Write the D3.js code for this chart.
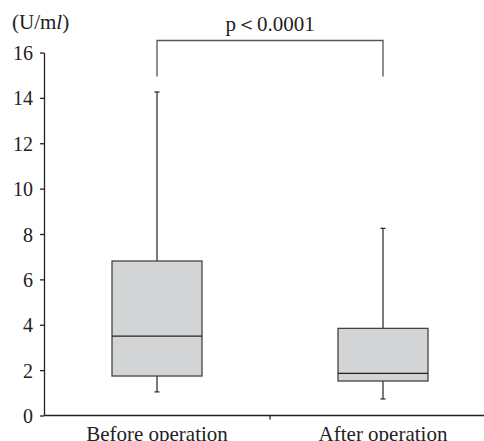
<!DOCTYPE html>
<html>
<head>
<meta charset="utf-8">
<script src="https://cdn.jsdelivr.net/npm/d3@7"></script>
<style>
  body { margin: 0; background: #fff; }
  svg { display: block; }
  svg text { font-family: "Liberation Serif", "Times New Roman", "DejaVu Serif", serif; }
</style>
</head>
<body>
<div id="chart"></div>
<script>
// box plot data (U/ml)
const groups = ['Before operation', 'After operation'];
const whiskerLow = [1.04, 0.73];
const q1 = [1.74, 1.52];
const median = [3.5, 1.86];
const q3 = [6.81, 3.84];
const whiskerHigh = [14.26, 8.25];
const yTicks = [0, 2, 4, 6, 8, 10, 12, 14, 16];
const pLabel = 'p\uFF1C0.0001';

const svgWidth = 484;
const svgHeight = 441;

const margin = { top: 52.5, right: -12, bottom: 25.5, left: 44 };
const width = svgWidth - margin.left - margin.right;
const height = svgHeight - margin.top - margin.bottom;

const svg = d3.select('#chart')
  .append('svg')
  .attr('width', svgWidth)
  .attr('height', svgHeight);

const chartGroup = svg.append('g')
  .attr('transform', `translate(${margin.left}, ${margin.top})`);

const xScale = d3.scaleBand()
  .domain(groups)
  .range([0, width]);

const yScale = d3.scaleLinear()
  .domain([0, 16])
  .range([height, 0]);

// y axis
const yAxis = chartGroup.append('g')
  .call(d3.axisLeft(yScale).tickValues(yTicks).tickSize(4).tickSizeOuter(0).tickPadding(7));
yAxis.attr('font-family', null).attr('font-size', null);
yAxis.select('.domain').attr('stroke', '#222').attr('stroke-width', 1.3);
yAxis.selectAll('.tick line').attr('stroke', '#222').attr('stroke-width', 1.3);
yAxis.selectAll('.tick text')
  .attr('font-size', 20)
  .attr('fill', '#222')
  .attr('dy', '0.35em');

// x axis with tick between the groups
const xAxis = chartGroup.append('g')
  .attr('transform', `translate(0, ${height})`);
xAxis.append('line')
  .attr('x1', 0).attr('x2', width)
  .attr('stroke', '#222').attr('stroke-width', 1.3);
xAxis.append('line')
  .attr('x1', xScale(groups[1])).attr('x2', xScale(groups[1]))
  .attr('y1', 0).attr('y2', 4)
  .attr('stroke', '#222').attr('stroke-width', 1.3);
xAxis.selectAll('text.label')
  .data(groups)
  .enter()
  .append('text')
  .attr('class', 'label')
  .attr('x', d => xScale(d) + xScale.bandwidth() / 2)
  .attr('y', 25)
  .attr('text-anchor', 'middle')
  .attr('font-size', 21)
  .attr('fill', '#222')
  .text(d => d);

// boxes
const boxWidth = 90;
const capWidth = 5;
const boxes = chartGroup.selectAll('g.box')
  .data(groups)
  .enter()
  .append('g')
  .attr('class', 'box')
  .attr('transform', d => `translate(${xScale(d) + xScale.bandwidth() / 2}, 0)`);

boxes.append('line')
  .attr('y1', (d, i) => yScale(whiskerHigh[i]))
  .attr('y2', (d, i) => yScale(q3[i]))
  .attr('stroke', '#333').attr('stroke-width', 1.3);
boxes.append('line')
  .attr('y1', (d, i) => yScale(q1[i]))
  .attr('y2', (d, i) => yScale(whiskerLow[i]))
  .attr('stroke', '#333').attr('stroke-width', 1.3);
boxes.append('line')
  .attr('x1', -capWidth / 2).attr('x2', capWidth / 2)
  .attr('y1', (d, i) => yScale(whiskerHigh[i]))
  .attr('y2', (d, i) => yScale(whiskerHigh[i]))
  .attr('stroke', '#333').attr('stroke-width', 1.3);
boxes.append('line')
  .attr('x1', -capWidth / 2).attr('x2', capWidth / 2)
  .attr('y1', (d, i) => yScale(whiskerLow[i]))
  .attr('y2', (d, i) => yScale(whiskerLow[i]))
  .attr('stroke', '#333').attr('stroke-width', 1.3);
boxes.append('rect')
  .attr('x', -boxWidth / 2)
  .attr('width', boxWidth)
  .attr('y', (d, i) => yScale(q3[i]))
  .attr('height', (d, i) => yScale(q1[i]) - yScale(q3[i]))
  .attr('fill', '#d3d4d6')
  .attr('stroke', '#444')
  .attr('stroke-width', 1.3);
boxes.append('line')
  .attr('x1', -boxWidth / 2).attr('x2', boxWidth / 2)
  .attr('y1', (d, i) => yScale(median[i]))
  .attr('y2', (d, i) => yScale(median[i]))
  .attr('stroke', '#222').attr('stroke-width', 1.3);

// significance bracket
const xa = xScale(groups[0]) + xScale.bandwidth() / 2;
const xb = xScale(groups[1]) + xScale.bandwidth() / 2;
const bracketTop = yScale(16) - 12;
const bracketBottom = yScale(16) + 24;
chartGroup.append('path')
  .attr('d', `M${xa},${bracketBottom}V${bracketTop}H${xb}V${bracketBottom}`)
  .attr('fill', 'none')
  .attr('stroke', '#555')
  .attr('stroke-width', 1.3);
chartGroup.append('text')
  .attr('x', (xa + xb) / 2)
  .attr('y', bracketTop - 10)
  .attr('text-anchor', 'middle')
  .attr('font-size', 21)
  .attr('fill', '#222')
  .text(pLabel);

// unit label
const unit = svg.append('text')
  .attr('x', 12)
  .attr('y', 29)
  .attr('font-size', 21)
  .attr('fill', '#222');
unit.append('tspan').text('(U/m');
unit.append('tspan').attr('font-style', 'italic').text('l');
unit.append('tspan').text(')');
</script>
</body>
</html>
